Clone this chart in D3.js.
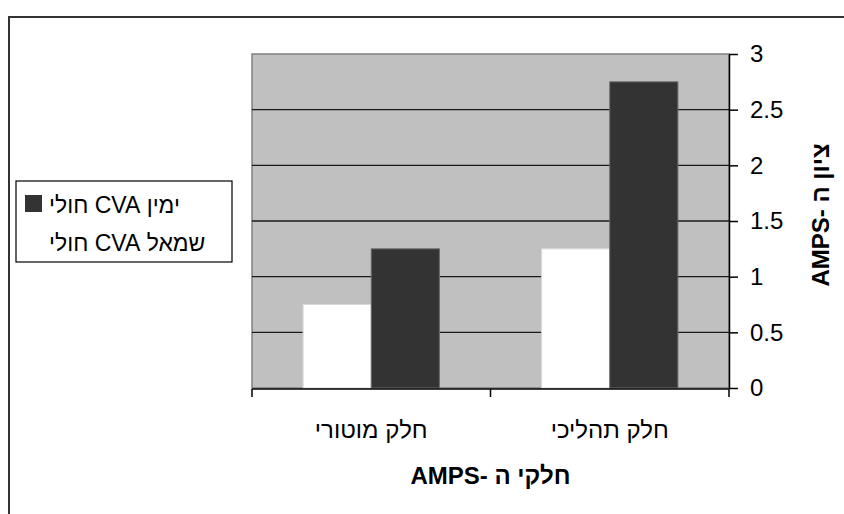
<!DOCTYPE html>
<html>
<head>
<meta charset="utf-8">
<script src="https://cdn.jsdelivr.net/npm/d3@7"></script>
<style>
  body { margin: 0; background: #fff; }
  svg text { font-family: "Liberation Sans", Arial, sans-serif; fill: #000; }
</style>
</head>
<body>
<svg id="chart"></svg>
<script>
// categories in the visual order (left to right)
const categories = ['חלק מוטורי', 'חלק תהליכי'];
// series
const seriesNames = ['שמאל CVA חולי', 'ימין CVA חולי'];
const leftValues = [0.75, 1.25];
const rightValues = [1.25, 2.75];
const yTicks = [0, 0.5, 1, 1.5, 2, 2.5, 3];
const yTitle = 'ציון ה -AMPS';
const xTitle = 'חלקי ה -AMPS';

class AmpsBars {
    constructor(_config) {
        this.config = {
            parentElement: _config.parentElement,
            containerWidth: _config.containerWidth || 844,
            containerHeight: _config.containerHeight || 514,
            plot: _config.plot || { left: 252, right: 729, top: 54, bottom: 388 }
        };
        this.initVis();
    }

    initVis() {
        let vis = this;
        const p = vis.config.plot;

        vis.svg = d3.select(vis.config.parentElement)
            .attr('width', vis.config.containerWidth)
            .attr('height', vis.config.containerHeight);

        // outer frame of the chart object
        vis.svg.append('rect')
            .attr('x', 9).attr('y', 17)
            .attr('width', 1000).attr('height', 1000)
            .attr('fill', 'none')
            .attr('stroke', '#333')
            .attr('stroke-width', 2);

        vis.xScale = d3.scaleBand()
            .domain(categories)
            .range([p.left, p.right])
            .padding(0);

        vis.xSub = d3.scaleBand()
            .domain([0, 1])
            .range([0, vis.xScale.bandwidth()])
            .paddingInner(0)
            .paddingOuter(0.75);

        vis.yScale = d3.scaleLinear()
            .domain([0, 3])
            .range([p.bottom, p.top]);

        // plot area
        vis.svg.append('rect')
            .attr('x', p.left).attr('y', p.top)
            .attr('width', p.right - p.left).attr('height', p.bottom - p.top)
            .attr('fill', '#c0c0c0')
            .attr('stroke', '#808080')
            .attr('stroke-width', 1.5);

        // gridlines
        vis.svg.append('g')
            .selectAll('line')
            .data(yTicks.filter(d => d > 0 && d < 3))
            .join('line')
            .attr('x1', p.left).attr('x2', p.right)
            .attr('y1', d => vis.yScale(d)).attr('y2', d => vis.yScale(d))
            .attr('stroke', '#1a1a1a')
            .attr('stroke-width', 1.3);

        vis.updateVis();
    }

    updateVis() {
        let vis = this;
        const p = vis.config.plot;
        const series = [
            { values: leftValues, fill: '#ffffff', stroke: '#d8d8d8' },
            { values: rightValues, fill: '#333333', stroke: '#6a6a6a' }
        ];

        series.forEach((s, i) => {
            vis.svg.append('g')
                .selectAll('rect')
                .data(categories.map((c, j) => ({ c: c, v: s.values[j] })))
                .join('rect')
                .attr('x', d => vis.xScale(d.c) + vis.xSub(i))
                .attr('width', vis.xSub.bandwidth())
                .attr('y', d => vis.yScale(d.v))
                .attr('height', d => p.bottom - vis.yScale(d.v))
                .attr('fill', s.fill)
                .attr('stroke', s.stroke)
                .attr('stroke-width', 1);
        });

        // right value axis
        vis.yAxis = d3.axisRight(vis.yScale)
            .tickValues(yTicks)
            .tickFormat(d => String(d))
            .tickSize(9)
            .tickPadding(12)
            .tickSizeOuter(0);
        vis.yAxisG = vis.svg.append('g')
            .attr('transform', `translate(${p.right},0)`)
            .call(vis.yAxis);
        vis.yAxisG.select('.domain').attr('stroke', '#000').attr('stroke-width', 1.5);
        vis.yAxisG.selectAll('line').attr('stroke', '#000').attr('stroke-width', 1.5);
        vis.yAxisG.selectAll('text')
            .attr('font-size', 24)
            .attr('font-family', '"Liberation Sans", Arial, sans-serif')
            .attr('fill', '#000');

        // category axis: ticks between categories
        const xTickPos = [p.left].concat(categories.map(c => vis.xScale(c) + vis.xScale.bandwidth()));
        vis.svg.append('line')
            .attr('x1', p.left).attr('x2', p.right)
            .attr('y1', p.bottom + 1).attr('y2', p.bottom + 1)
            .attr('stroke', '#000').attr('stroke-width', 1.5);
        vis.svg.append('g')
            .selectAll('line')
            .data(xTickPos)
            .join('line')
            .attr('x1', d => d).attr('x2', d => d)
            .attr('y1', p.bottom + 1).attr('y2', p.bottom + 9)
            .attr('stroke', '#000').attr('stroke-width', 1.5);

        vis.svg.append('g')
            .selectAll('text')
            .data(categories)
            .join('text')
            .attr('x', d => vis.xScale(d) + vis.xScale.bandwidth() / 2)
            .attr('y', 438)
            .attr('text-anchor', 'middle')
            .attr('direction', 'rtl')
            .attr('font-size', 24)
            .text(d => d);

        // axis titles
        vis.svg.append('text')
            .attr('x', (p.left + p.right) / 2)
            .attr('y', 484)
            .attr('text-anchor', 'middle')
            .attr('direction', 'rtl')
            .attr('font-size', 24)
            .attr('font-weight', 'bold')
            .text(xTitle);

        vis.svg.append('text')
            .attr('transform', `translate(829,215) rotate(-90)`)
            .attr('text-anchor', 'middle')
            .attr('direction', 'rtl')
            .attr('font-size', 24)
            .attr('font-weight', 'bold')
            .text(yTitle);

        // legend
        const legend = vis.svg.append('g');
        legend.append('rect')
            .attr('x', 16).attr('y', 181)
            .attr('width', 216).attr('height', 81)
            .attr('fill', '#fff')
            .attr('stroke', '#000')
            .attr('stroke-width', 1.2);
        legend.append('rect')
            .attr('x', 25).attr('y', 195)
            .attr('width', 17).attr('height', 17)
            .attr('fill', series[1].fill);
        legend.selectAll('text.leg')
            .data([seriesNames[1], seriesNames[0]])
            .join('text')
            .attr('class', 'leg')
            .attr('x', 49)
            .attr('y', (d, i) => 213 + i * 38)
            .attr('direction', 'rtl')
            .attr('text-anchor', 'end')
            .attr('font-size', 23)
            .text(d => d);
    }
}

new AmpsBars({ parentElement: '#chart' });
</script>
</body>
</html>
